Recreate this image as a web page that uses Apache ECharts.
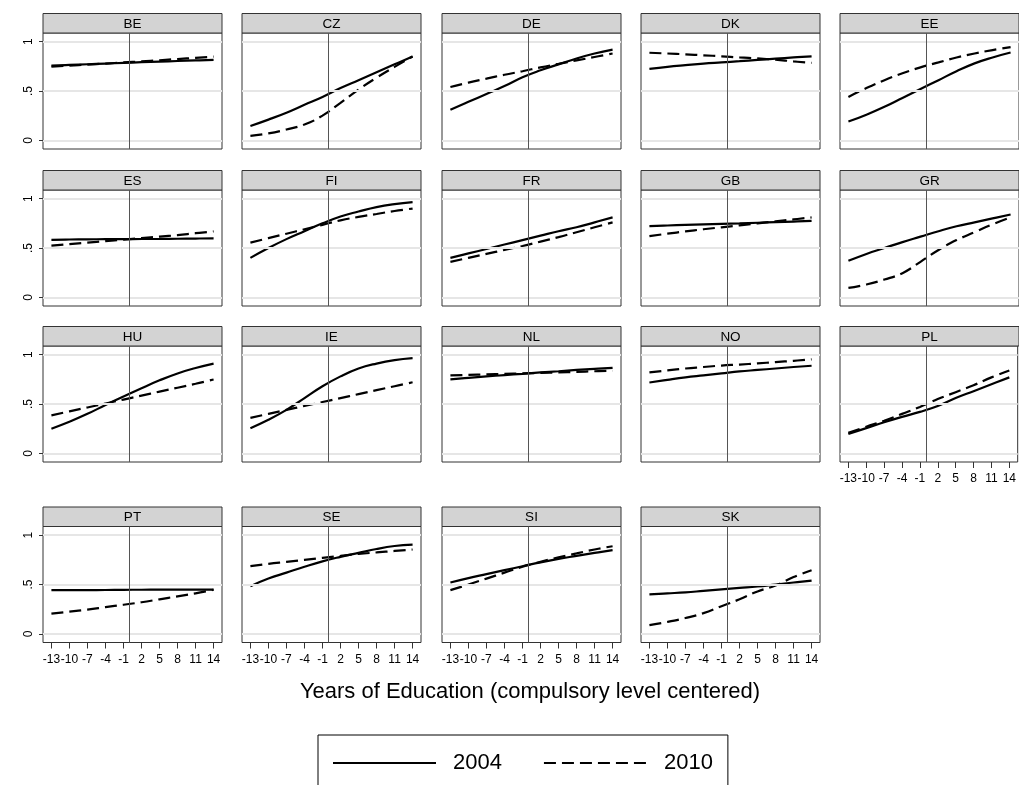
<!DOCTYPE html>
<html><head><meta charset="utf-8">
<script src="https://cdn.jsdelivr.net/npm/echarts@6/dist/echarts.min.js"></script>
<style>html,body{margin:0;padding:0;background:#fff}#c{width:1019px;height:785px}</style>
</head><body><div id="c"></div>
<script>
// ---- data ----
const countries = ['BE','CZ','DE','DK','EE','ES','FI','FR','GB','GR','HU','IE','NL','NO','PL','PT','SE','SI','SK'];
const xValues = [-13,-10,-7,-4,-1,2,5,8,11,14];
const yTicks = [0, 0.5, 1];
const yTickLabels = ['0', '.5', '1'];
const legendNames = ['2004', '2010'];
const xTitle = 'Years of Education (compulsory level centered)';

const BE_2004 = [.757,.764,.771,.778,.785,.792,.798,.804,.810,.815];
const BE_2010 = [.748,.758,.768,.778,.790,.800,.812,.824,.836,.848];
const CZ_2004 = [.145,.21,.28,.36,.44,.53,.61,.69,.77,.85];
const CZ_2010 = [.045,.07,.11,.16,.25,.38,.515,.635,.745,.85];
const DE_2004 = [.31,.39,.47,.55,.64,.71,.77,.83,.88,.92];
const DE_2010 = [.54,.585,.625,.665,.70,.74,.775,.81,.845,.88];
const DK_2004 = [.725,.745,.762,.778,.79,.802,.815,.828,.84,.852];
const DK_2010 = [.888,.88,.872,.862,.852,.84,.83,.818,.80,.786];
const EE_2004 = [.19,.26,.34,.43,.52,.61,.70,.78,.84,.89];
const EE_2010 = [.44,.53,.61,.68,.74,.79,.84,.88,.915,.945];
const ES_2004 = [.583,.586,.588,.589,.59,.591,.592,.594,.596,.598];
const ES_2010 = [.525,.54,.555,.57,.585,.60,.615,.63,.65,.668];
const FI_2004 = [.40,.50,.59,.67,.75,.82,.87,.915,.945,.965];
const FI_2010 = [.555,.60,.645,.69,.735,.78,.815,.845,.875,.90];
const FR_2004 = [.40,.445,.49,.535,.58,.625,.67,.71,.76,.81];
const FR_2010 = [.36,.40,.44,.48,.52,.565,.61,.66,.71,.76];
const GB_2004 = [.722,.728,.734,.74,.745,.75,.756,.762,.768,.774];
const GB_2010 = [.62,.645,.668,.69,.71,.73,.75,.77,.79,.81];
const GR_2004 = [.37,.44,.50,.56,.615,.67,.72,.76,.80,.84];
const GR_2010 = [.095,.13,.18,.245,.36,.48,.58,.66,.74,.81];
const HU_2004 = [.25,.32,.40,.49,.575,.66,.74,.81,.865,.91];
const HU_2010 = [.385,.425,.465,.505,.545,.585,.625,.665,.705,.748];
const IE_2004 = [.255,.34,.44,.56,.68,.78,.86,.91,.945,.965];
const IE_2010 = [.36,.40,.44,.48,.52,.56,.60,.64,.68,.72];
const NL_2004 = [.75,.765,.78,.793,.806,.82,.832,.845,.856,.867];
const NL_2010 = [.79,.795,.80,.805,.81,.815,.82,.826,.832,.837];
const NO_2004 = [.718,.745,.77,.79,.81,.83,.845,.86,.875,.888];
const NO_2010 = [.82,.84,.86,.875,.89,.90,.912,.925,.938,.952];
const PL_2004 = [.197,.255,.315,.37,.42,.48,.56,.63,.70,.77];
const PL_2010 = [.207,.27,.33,.40,.47,.55,.62,.69,.77,.84];
const PT_2004 = [.443,.443,.443,.444,.446,.447,.448,.448,.449,.449];
const PT_2010 = [.205,.225,.245,.27,.295,.32,.35,.38,.41,.447];
const SE_2004 = [.483,.56,.62,.68,.735,.78,.82,.86,.89,.905];
const SE_2010 = [.686,.71,.73,.75,.77,.79,.81,.825,.84,.855];
const SI_2004 = [.52,.565,.605,.645,.685,.725,.76,.79,.82,.848];
const SI_2010 = [.443,.50,.56,.62,.68,.73,.775,.815,.855,.888];
const SK_2004 = [.40,.41,.42,.435,.45,.465,.48,.50,.52,.54];
const SK_2010 = [.088,.12,.16,.21,.28,.35,.43,.49,.575,.645];

const s2004 = [BE_2004,CZ_2004,DE_2004,DK_2004,EE_2004,ES_2004,FI_2004,FR_2004,GB_2004,GR_2004,HU_2004,IE_2004,NL_2004,NO_2004,PL_2004,PT_2004,SE_2004,SI_2004,SK_2004];
const s2010 = [BE_2010,CZ_2010,DE_2010,DK_2010,EE_2010,ES_2010,FI_2010,FR_2010,GB_2010,GR_2010,HU_2010,IE_2010,NL_2010,NO_2010,PL_2010,PT_2010,SE_2010,SI_2010,SK_2010];

// ---- layout ----
const FONT = '"Liberation Sans", Arial, Helvetica, sans-serif';
const colLeft = [43, 242, 442, 641, 840];
const rowTop = [33, 190, 346, 526.5];
const W = 179, H = 116, HH = 19.5;

const grids = [], xAxes = [], yAxes = [], series = [], graphics = [];
countries.forEach((c, i) => {
  const r = Math.floor(i / 5), col = i % 5;
  const left = colLeft[col], top = rowTop[r];
  grids.push({left: left, top: top, width: W, height: H, show: true, borderColor: '#333', borderWidth: 1, backgroundColor: 'transparent'});
  const showX = (r === 3) || (c === 'PL');
  xAxes.push({
    gridIndex: i, type: 'value', min: -14.4, max: 15.4, position: 'bottom',
    axisLine: {show: false, onZero: false}, splitLine: {show: false},
    axisTick: {show: showX, inside: false, length: 6, customValues: xValues, lineStyle: {color: '#333', width: 1}},
    axisLabel: {show: showX, inside: false, customValues: xValues, fontSize: 12, color: '#000', margin: 11, hideOverlap: false, fontFamily: FONT, formatter: v => String(v)}
  });
  yAxes.push({
    gridIndex: i, type: 'value', min: -0.088, max: 1.088, position: 'left',
    axisLine: {show: false, onZero: false}, splitLine: {show: false},
    axisTick: {show: col === 0, inside: false, length: 4, customValues: yTicks, lineStyle: {color: '#333', width: 1}},
    axisLabel: {show: col === 0, inside: false, customValues: yTicks, rotate: 90, margin: 8, fontSize: 12, color: '#000', fontFamily: FONT,
      formatter: v => yTickLabels[yTicks.indexOf(v)]}
  });
  series.push({
    type: 'line', name: '_guide', xAxisIndex: i, yAxisIndex: i, data: [], silent: true, z: 1, animation: false,
    markLine: {symbol: 'none', silent: true, animation: false, label: {show: false},
      data: yTicks.map(v => ({yAxis: v, lineStyle: {color: '#e6e6e6', width: 2, type: 'solid'}}))
        .concat([{xAxis: 0, lineStyle: {color: '#555', width: 1, type: 'solid'}}])}
  });
  series.push({
    type: 'line', name: legendNames[0], xAxisIndex: i, yAxisIndex: i,
    data: xValues.map((x, k) => [x, s2004[i][k]]),
    showSymbol: false, symbol: 'none', smooth: 0.45, z: 3, animation: false,
    lineStyle: {color: '#000', width: 2.2, type: 'solid'}, itemStyle: {color: '#000'}
  });
  series.push({
    type: 'line', name: legendNames[1], xAxisIndex: i, yAxisIndex: i,
    data: xValues.map((x, k) => [x, s2010[i][k]]),
    showSymbol: false, symbol: 'none', smooth: 0.45, z: 3, animation: false,
    lineStyle: {color: '#000', width: 2.2, type: [12, 6]}, itemStyle: {color: '#000'}
  });
  graphics.push({type: 'rect', shape: {x: left, y: top - HH, width: W, height: HH},
    style: {fill: '#d3d3d3', stroke: '#333', lineWidth: 1}, silent: true});
  graphics.push({type: 'text', x: left + W / 2, y: top - HH / 2 + 1,
    style: {text: c, fontSize: 13.5, fill: '#000', align: 'center', verticalAlign: 'middle', fontFamily: FONT}, silent: true});
});

graphics.push({type: 'text', x: 530, y: 692,
  style: {text: xTitle, fontSize: 22, fill: '#000', align: 'center', verticalAlign: 'middle', fontFamily: FONT}, silent: true});

const chart = echarts.init(document.getElementById('c'), null, {renderer: 'canvas'});
chart.setOption({
  backgroundColor: '#fff',
  animation: false,
  grid: grids, xAxis: xAxes, yAxis: yAxes, series: series,
  graphic: graphics,
  legend: {
    data: legendNames, left: 318, top: 735,
    orient: 'horizontal', selectedMode: false,
    itemWidth: 103, itemHeight: 26, itemGap: 41,
    padding: [15, 15, 60, 14],
    borderColor: '#000', borderWidth: 1,
    itemStyle: {opacity: 0},
    textStyle: {fontSize: 22, color: '#000', fontFamily: FONT, padding: [0, 0, 0, 12], lineHeight: 26}
  }
});
</script>
</body></html>
